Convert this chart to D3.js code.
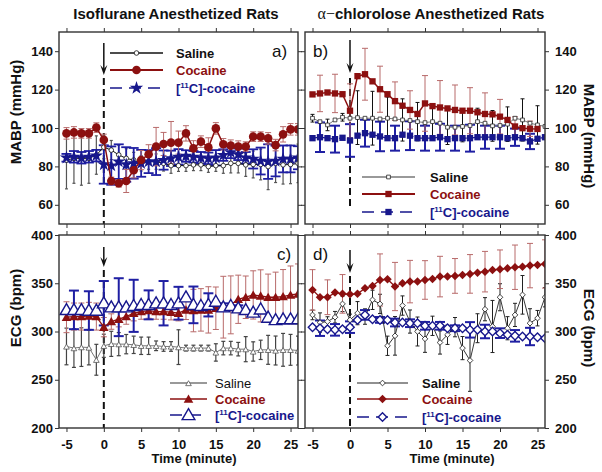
<!DOCTYPE html>
<html><head><meta charset="utf-8">
<script src="https://cdn.jsdelivr.net/npm/d3@7"></script>
<style>body{margin:0;background:#fff}svg{display:block}text{font-family:Arial,"Liberation Sans",sans-serif}</style>
</head><body><svg id="chart" width="602" height="472"></svg>
<script>
// ---------- data ----------
const time = [-5,-4,-3,-2,-1,0,1,2,3,4,5,6,7,8,9,10,11,12,13,14,15,16,17,18,19,20,21,22,23,24,25,26];
const xTicks = [-5,0,5,10,15,20,25];
const mabpTicks = [60,80,100,120,140];
const ecgTicks = [200,250,300,350,400];
const seriesNames = ["Saline","Cocaine","[11C]-cocaine"];
const titles = ["Isoflurane Anesthetized Rats","α−chlorolose Anesthetized Rats"];

// panel a : isoflurane MABP
const aSaline = [83.3,84.2,84.2,84.2,85.9,90,88.5,86,84.2,83.3,81.6,82.5,82.5,81.6,80.4,80.4,80.4,80.8,80.8,79.9,80.4,80.4,81.6,81.6,80.8,81,81,79.9,81.6,80.8,81,81.6];
const aSalineErr = [15,13,14,13,10,6,5,5,5,4,4,4,4,4,4,3,3,3,3,3,3,4,5,5,6,7,8,12,10,10,10,10];
const aCocaine = [97.2,97.7,97.2,97.2,100.2,93.8,72.4,71.2,72.4,78,83.3,86.3,90.3,91.7,92.4,92.4,97.2,89.4,92.9,89.9,99.8,91.5,90.8,90.3,90.3,95.5,95.5,94.6,91.1,96.7,99.3,99.3];
const aCocaineErr = [3,3,2.5,2.5,2.5,3,2,2,6,4,5,5,10,6,11,6,4,4,3,5,3,3,3,3,2.5,2.5,2.5,3,3,4,3,3];
const aC11 = [84.5,85,84.5,85,85.6,81,80.4,82.5,81,81.6,81.6,82.5,82.5,83.3,84.2,85,85.4,85,84.5,84.2,84.5,85.9,87.3,86.3,84.5,83.9,82.8,82.5,82.8,83.9,83.9,84.5];
const aC11Err = [2,3,3,3,3,10,10,9,9,8,7,6,7,5,4,4,3,3,3,3,4,3,3,3,3,5,7,9,8,7,7,6];

// panel b : alpha-chloralose MABP
const bSaline = [105.1,103.3,101.6,104.2,105.6,105.1,105.4,105.1,105.1,104.7,105.1,104.7,104.2,103.9,103.3,102.8,103.3,102.5,100.4,100.4,100.8,101.3,103.3,102.5,101.1,101.3,102,105.1,104.2,102.5,101.6,100.8];
const bSalineErr = [2,null,3,null,2,null,14,null,14,null,11,null,11,null,10,null,9,null,9,null,8,null,7,null,8,null,9,null,11,null,10,null];
const bCocaine = [117.5,118,118.5,118,117.6,109,127,128,124.3,120.2,117.6,114,111.6,109.4,107.3,112.8,111.4,110.7,110.2,109.4,109,109,108.2,107.3,107.1,105.9,104.2,100.8,99.9,99.6,99.5,null];
const bCocaineErr = [null,9.5,null,10,null,14,null,13.5,null,12,null,10,null,10,null,14.5,null,14,null,13,null,12,null,11,null,9,null,5,null,4,null,null];
const bC11 = [94.7,95.2,94.7,94.2,94.9,93.5,96,97.3,96.5,95.6,94.7,94.7,96.5,96,94.7,94.7,94.7,95.2,94.2,94.7,94.7,94.7,95.2,95.2,95.2,95.2,94.7,95.2,94.7,93,94.4,95.2];
const bC11Err = [null,7.7,null,7,null,8.5,null,7,null,7.7,null,6.5,null,7.5,null,6.5,null,7,null,6.5,null,7,null,6,null,6,null,4.5,null,4,null,null];

// panel c : isoflurane ECG
const cSaline = [284.5,282.8,283.8,283.4,270.7,285.2,287.2,286.9,286.9,286.2,285.2,285.2,285.2,284.5,284.5,283.8,282.8,282.8,282.8,282.8,278.3,282.8,282.8,281.7,281.7,279.3,281,281,280.3,281,281,280.3];
const cSalineErr = [19,20,20,18,16,12,13,12,10,9,9,9,5,5,5,18,3,3,3,3,9,7,7,7,13,10,10,15,15,17,16,15];
const cCocaine = [314.8,315.5,315.5,316.2,315.5,304.5,310.3,312.8,315.5,319,320.7,321.7,320.7,320.7,320,319,322.4,321.7,322.4,322.4,324.1,325.2,327.6,333.4,335.5,337.9,336.9,335.5,335.5,336.2,337.9,339];
const cCocaineErr = [16,14,14,14,14,10,8,8,8,8,8,8,8,8,8,8,10,22,22,24,22,32,30,25,22,25,27,24,26,28,30,31];
const cC11 = [322.4,322.4,322.4,321.7,321.7,329.3,325.2,325.2,325.2,326.6,327.6,327.6,329.3,329.3,327.6,329.3,335.5,327.6,326.6,327.6,331,325.2,326.6,324.1,322.4,319.7,323,314.5,312,312.8,312.8,312.8];
const cC11Err = [null,20,null,20,null,23,null,30,null,27,null,15,null,23,null,17,null,19,null,12,null,4,null,3,null,null,null,null,null,null,null,null];

// panel d : alpha-chloralose ECG
const dSaline = [317.2,309.3,310.3,314.8,328.6,312,319,315.5,332.8,328.6,285.2,295.5,326.9,310.3,300,292.4,305.9,288.6,296.6,304.5,282.8,270,303.4,323.1,305.2,335.5,303.4,317.2,338,308.6,313.8,335.5];
const dSalineErr = [5,10,5,6,8,6,12,8,10,10,10,20,10,12,15,14,10,12,10,10,12,32,15,12,27,14,12,12,20,15,8,10];
const dCocaine = [343.1,335.5,335.5,340.3,339,338.6,339,344.8,347.2,353.4,354.1,346.6,350,351.7,351.7,353.4,354.5,356.9,356.9,357.6,358.6,359.7,361,362,363.8,364.5,365.5,366.6,367.2,368.3,369,370];
const dCocaineErr = [21,null,18,null,20,null,null,null,null,27,null,25,null,22,null,20,null,21,null,18,null,20,null,21,null,20,null,23,null,23,null,25];
const dC11 = [304.5,303.4,302.4,301.7,302.4,304.5,312,317.2,312.8,312,312,309.3,309.3,308.6,308.6,305.9,305.9,305.9,303.4,303.4,303.4,301.7,301.7,300,300,298.3,296.6,295.5,294.8,294.8,294,293.1];
const dC11Err = [null,8,null,6,null,6,null,5,null,3,null,4,null,4,null,4,null,4,null,3,null,8,null,7,null,5,null,6,null,9,null,null];

// injection marker (arrow top, arrow tip, dashed start, dashed end) in data units
const injA = [144.3,127.6,126,50];
const injB = [145.8,128.6,126,58.9];
const injC = [387.6,366.8,363.7,200];
const injD = [384.5,360.6,357.5,200];

// ---------- drawing ----------
const RED = "#8c1010", REDERR = "#b86a6a", BLUE = "#17178c", BLUEERR = "#1f1fa3";
const svg = d3.select("#chart");
const FONT = "Arial, 'Liberation Sans', sans-serif";

const panels = [
  {id:"a", xr:[59,298], yr:[224,32], ydom:[50,150], yt:mabpTicks, left:true, right:false, bottom:false, inj:injA,
   series:[
     {v:aSaline, e:aSalineErr, line:{c:"#111",w:1}, err:{c:"#555",w:1.2,cap:1.5}, mk:{t:"circle",s:2.3,fill:"#fff",stroke:"#111",sw:0.8}},
     {v:aC11, e:aC11Err, line:{c:BLUE,w:1.2,dash:"6,3"}, err:{c:BLUEERR,w:1.8,cap:5}, mk:{t:"star",s:55,fill:BLUE}},
     {v:aCocaine, e:aCocaineErr, line:{c:RED,w:1.5}, err:{c:REDERR,w:1,cap:3}, mk:{t:"circle",s:4.3,fill:RED}}
   ],
   legend:{x1:110,x2:163,tx:176,ys:[53,70,88],bold:[true,true,true]},
   letter:{x:272,y:57,t:"a)"}},
  {id:"b", xr:[305,545], yr:[224,32], ydom:[50,150], yt:mabpTicks, left:false, right:true, bottom:false, inj:injB,
   series:[
     {v:bC11, e:bC11Err, line:{c:BLUE,w:1.2,dash:"6,3"}, err:{c:BLUEERR,w:2,cap:5}, mk:{t:"square",s:40,fill:BLUE}},
     {v:bSaline, e:bSalineErr, line:{c:"#777",w:1}, err:{c:"#111",w:1,cap:2}, mk:{t:"square",s:14,fill:"#fff",stroke:"#222",sw:0.8}},
     {v:bCocaine, e:bCocaineErr, line:{c:RED,w:1.5}, err:{c:REDERR,w:1,cap:3}, mk:{t:"square",s:40,fill:RED}}
   ],
   legend:{x1:362,x2:415,tx:430,ys:[177,194,212],bold:[true,true,true]},
   letter:{x:313,y:57,t:"b)"}},
  {id:"c", xr:[59,298], yr:[428,235], ydom:[200,400], yt:ecgTicks, left:true, right:false, bottom:true, inj:injC,
   series:[
     {v:cSaline, e:cSalineErr, line:{c:"#777",w:1}, err:{c:"#444",w:1.2,cap:2}, mk:{t:"triangle",s:14,fill:"#fff",stroke:"#555",sw:0.8}},
     {v:cCocaine, e:cCocaineErr, line:{c:RED,w:1.3}, err:{c:REDERR,w:1,cap:3}, mk:{t:"triangle",s:40,fill:RED}},
     {v:cC11, e:cC11Err, line:{c:BLUE,w:1.2,dash:"6,3"}, err:{c:BLUEERR,w:2,cap:5}, mk:{t:"triangle",s:70,fill:"#fff",stroke:BLUE,sw:1.4}}
   ],
   legend:{x1:170,x2:207,tx:215,ys:[383,399,415],bold:[false,true,true]},
   letter:{x:277,y:260,t:"c)"}},
  {id:"d", xr:[305,545], yr:[428,235], ydom:[200,400], yt:ecgTicks, left:false, right:true, bottom:true, inj:injD,
   series:[
     {v:dSaline, e:dSalineErr, line:{c:"#222",w:0.9}, err:{c:"#222",w:1,cap:2}, mk:{t:"diamond",s:16,fill:"#fff",stroke:"#222",sw:0.8}},
     {v:dCocaine, e:dCocaineErr, line:{c:RED,w:1.3}, err:{c:REDERR,w:1,cap:3}, mk:{t:"diamond",s:36,fill:RED}},
     {v:dC11, e:dC11Err, line:{c:BLUE,w:1.2,dash:"6,3"}, err:{c:BLUEERR,w:2,cap:5}, mk:{t:"diamond",s:36,fill:"#fff",stroke:BLUE,sw:1.4}}
   ],
   legend:{x1:357,x2:408,tx:422,ys:[383,399,417],bold:[true,true,true]},
   letter:{x:313,y:260,t:"d)"}}
];

function marker(sel, mk, x, y) {
  let el;
  if (mk.t === "circle") {
    el = sel.append("circle").attr("cx", x).attr("cy", y).attr("r", mk.s);
  } else {
    const type = {square:d3.symbolSquare, triangle:d3.symbolTriangle, diamond:d3.symbolSquare, star:d3.symbolStar}[mk.t];
    el = sel.append("path").attr("d", d3.symbol().type(type).size(mk.s)())
      .attr("transform", `translate(${x},${y})` + (mk.t === "diamond" ? " rotate(45)" : "") + (mk.t === "triangle" ? " translate(0,1)" : ""));
  }
  el.attr("fill", mk.fill).attr("stroke", mk.stroke || "none").attr("stroke-width", mk.sw || 0);
}

const seriesColors = ["#111", RED, BLUE];
const salineSets = [aSaline, bSaline, cSaline, dSaline];
const cocaineSets = [aCocaine, bCocaine, cCocaine, dCocaine];

panels.forEach(p => {
  const x = d3.scaleLinear().domain([-6, 26]).range(p.xr);
  const y = d3.scaleLinear().domain(p.ydom).range(p.yr);
  const g = svg.append("g");
  const clipId = "clip" + p.id;
  svg.append("clipPath").attr("id", clipId).append("rect")
    .attr("x", p.xr[0]).attr("y", p.yr[1]).attr("width", p.xr[1] - p.xr[0]).attr("height", p.yr[0] - p.yr[1]);

  const styleAxis = s => {
    s.select(".domain").remove();
    s.selectAll(".tick line").attr("stroke", "#333").attr("stroke-width", 1);
    s.selectAll(".tick text").attr("font-family", FONT).attr("font-size", 13).attr("font-weight", "bold").attr("fill", "#111");
  };
  const fmt = d => String(d);
  g.append("g").attr("transform", `translate(0,${p.yr[0]})`)
    .call(d3.axisBottom(x).tickValues(xTicks).tickSize(4).tickPadding(8).tickFormat(p.bottom ? fmt : ""))
    .call(styleAxis);
  g.append("g").attr("transform", `translate(0,${p.yr[1]})`)
    .call(d3.axisTop(x).tickValues(xTicks).tickSize(4).tickFormat("")).call(styleAxis);
  g.append("g").attr("transform", `translate(${p.xr[0]},0)`)
    .call(d3.axisLeft(y).tickValues(p.yt).tickSize(4).tickPadding(2).tickFormat(p.left ? fmt : ""))
    .call(styleAxis);
  g.append("g").attr("transform", `translate(${p.xr[1]},0)`)
    .call(d3.axisRight(y).tickValues(p.yt).tickSize(4).tickPadding(6).tickFormat(p.right ? fmt : ""))
    .call(styleAxis);

  const plot = g.append("g").attr("clip-path", `url(#${clipId})`);
  const x0 = x(0);
  plot.append("line").attr("x1", x0).attr("x2", x0).attr("y1", y(p.inj[2])).attr("y2", y(p.inj[3]))
    .attr("stroke", "#111").attr("stroke-width", 2).attr("stroke-dasharray", "7,4");

  p.series.forEach(s => {
    const eg = plot.append("g").attr("stroke", s.err.c).attr("stroke-width", s.err.w).attr("fill", "none");
    time.forEach((t, i) => {
      const v = s.v[i], e = s.e[i];
      if (v == null || e == null) return;
      const xx = x(t), y1 = y(v - e), y2 = y(v + e);
      eg.append("line").attr("x1", xx).attr("x2", xx).attr("y1", y1).attr("y2", y2);
      eg.append("line").attr("x1", xx - s.err.cap).attr("x2", xx + s.err.cap).attr("y1", y1).attr("y2", y1);
      eg.append("line").attr("x1", xx - s.err.cap).attr("x2", xx + s.err.cap).attr("y1", y2).attr("y2", y2);
    });
  });
  p.series.forEach(s => {
    const line = d3.line().defined(d => d[1] != null).x(d => x(d[0])).y(d => y(d[1]));
    plot.append("path").datum(time.map((t, i) => [t, s.v[i]])).attr("d", line)
      .attr("fill", "none").attr("stroke", s.line.c).attr("stroke-width", s.line.w)
      .attr("stroke-dasharray", s.line.dash || null);
    const mg = plot.append("g");
    time.forEach((t, i) => { if (s.v[i] != null) marker(mg, s.mk, x(t), y(s.v[i])); });
  });

  const ay1 = y(p.inj[0]), ay2 = y(p.inj[1]);
  g.append("line").attr("x1", x0).attr("x2", x0).attr("y1", ay1).attr("y2", ay2 - 4).attr("stroke", "#111").attr("stroke-width", 1.5);
  g.append("path").attr("d", `M${x0 - 3.5},${ay2 - 10} L${x0},${ay2} L${x0 + 3.5},${ay2 - 10} L${x0},${ay2 - 6} Z`).attr("fill", "#111");

  g.append("rect").attr("x", p.xr[0]).attr("y", p.yr[1]).attr("width", p.xr[1] - p.xr[0]).attr("height", p.yr[0] - p.yr[1])
    .attr("fill", "none").attr("stroke", "#333").attr("stroke-width", 1.4);

  const lg = p.legend;
  const byName = [null, null, null];
  p.series.forEach(s => {
    if (salineSets.includes(s.v)) byName[0] = s;
    else if (cocaineSets.includes(s.v)) byName[1] = s;
    else byName[2] = s;
  });
  [0, 1, 2].forEach(k => {
    const s = byName[k];
    const yy = lg.ys[k];
    g.append("line").attr("x1", lg.x1).attr("x2", lg.x2).attr("y1", yy).attr("y2", yy)
      .attr("stroke", s.line.c).attr("stroke-width", s.line.w + 0.3)
      .attr("stroke-dasharray", s.line.dash ? "12,7" : null);
    marker(g, s.mk, (lg.x1 + lg.x2) / 2, yy);
    const tx = g.append("text").attr("x", lg.tx).attr("y", yy + 5).attr("font-family", FONT).attr("font-size", 13)
      .attr("font-weight", lg.bold[k] ? "bold" : "normal").attr("fill", seriesColors[k]);
    if (k === 2) {
      tx.append("tspan").text("[");
      tx.append("tspan").attr("font-size", 8).attr("dy", -5).text("11");
      tx.append("tspan").attr("dy", 5).text("C]-cocaine");
    } else tx.text(seriesNames[k]);
  });

  g.append("text").attr("x", p.letter.x).attr("y", p.letter.y).attr("font-family", FONT).attr("font-size", 17)
    .attr("fill", "#111").text(p.letter.t);
});

// titles
svg.append("text").attr("x", 176).attr("y", 19).attr("text-anchor", "middle").attr("font-family", FONT)
  .attr("font-size", 15).attr("font-weight", "bold").attr("fill", "#111").text(titles[0]);
const t2 = svg.append("text").attr("x", 431).attr("y", 19).attr("text-anchor", "middle").attr("font-family", FONT)
  .attr("font-size", 15).attr("font-weight", "bold").attr("fill", "#111");
t2.append("tspan").attr("font-family", "'Liberation Serif','DejaVu Serif',serif").attr("font-weight", "normal").attr("font-size", 16).text(titles[1].slice(0, 2));
t2.append("tspan").text(titles[1].slice(2));

function yTitle(txt, x, y, rot) {
  svg.append("text").attr("transform", `translate(${x},${y}) rotate(${rot})`).attr("text-anchor", "middle")
    .attr("font-family", FONT).attr("font-size", 15).attr("font-weight", "bold").attr("fill", "#111").text(txt);
}
yTitle("MABP (mmHg)", 20.5, 112, -90);
yTitle("ECG (bpm)", 20.5, 308, -90);
yTitle("MABP (mmHg)", 583.5, 136, 90);
yTitle("ECG (bpm)", 583.5, 328, 90);
[[194, 463], [452, 463]].forEach(([xx, yy]) => {
  svg.append("text").attr("x", xx).attr("y", yy).attr("text-anchor", "middle").attr("font-family", FONT)
    .attr("font-size", 13).attr("font-weight", "bold").attr("fill", "#111").text("Time (minute)");
});
</script></body></html>
